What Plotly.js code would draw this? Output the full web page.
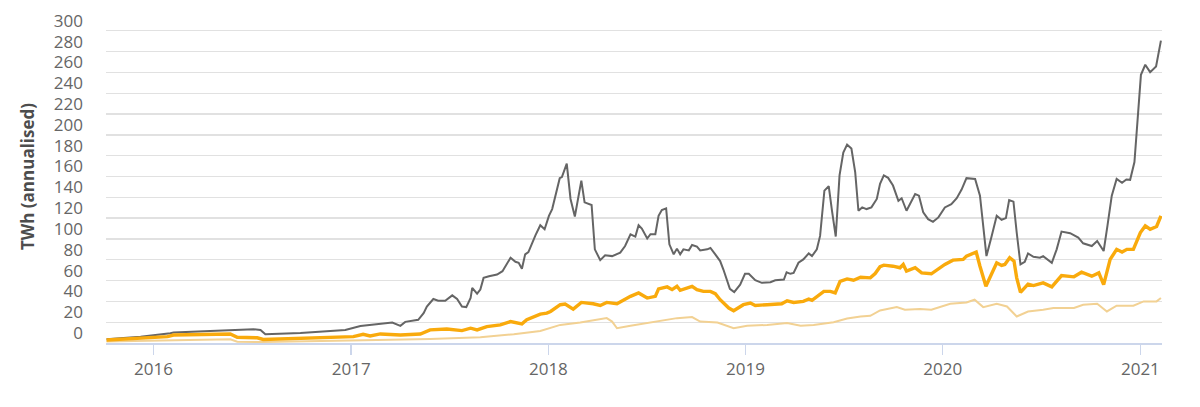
<!DOCTYPE html>
<html>
<head>
<meta charset="utf-8">
<script src="https://cdn.plot.ly/plotly-3.0.1.min.js"></script>
<style>
html,body{margin:0;padding:0;background:#fff;}
#chart{width:1200px;height:407px;}
</style>
</head>
<body>
<div id="chart"></div>
<script>
// Upper bound (grey)
const maxDates = ["2015-10-06","2015-12-08","2016-02-01","2016-02-07","2016-04-15","2016-07-04","2016-07-17","2016-07-26","2016-09-29","2016-12-21","2017-01-18","2017-02-24","2017-03-18","2017-04-02","2017-04-11","2017-05-05","2017-05-15","2017-05-21","2017-06-02","2017-06-11","2017-06-24","2017-07-07","2017-07-16","2017-07-25","2017-08-02","2017-08-10","2017-08-13","2017-08-22","2017-08-28","2017-09-03","2017-09-13","2017-09-28","2017-10-08","2017-10-23","2017-11-01","2017-11-07","2017-11-13","2017-11-19","2017-11-25","2017-12-08","2017-12-17","2017-12-25","2018-01-02","2018-01-08","2018-01-14","2018-01-22","2018-01-26","2018-02-04","2018-02-11","2018-02-19","2018-03-03","2018-03-09","2018-03-22","2018-03-28","2018-04-07","2018-04-16","2018-04-29","2018-05-14","2018-05-23","2018-06-02","2018-06-11","2018-06-17","2018-06-23","2018-07-03","2018-07-09","2018-07-18","2018-07-24","2018-07-30","2018-08-07","2018-08-13","2018-08-21","2018-08-27","2018-09-02","2018-09-08","2018-09-18","2018-09-24","2018-10-03","2018-10-09","2018-10-22","2018-10-28","2018-11-06","2018-11-15","2018-11-21","2018-12-03","2018-12-11","2018-12-22","2018-12-31","2019-01-07","2019-01-19","2019-01-31","2019-02-16","2019-02-25","2019-03-13","2019-03-18","2019-03-25","2019-03-31","2019-04-09","2019-04-18","2019-04-28","2019-05-04","2019-05-13","2019-05-19","2019-05-27","2019-06-04","2019-06-10","2019-06-17","2019-06-24","2019-07-01","2019-07-08","2019-07-16","2019-07-23","2019-07-29","2019-08-05","2019-08-13","2019-08-22","2019-09-01","2019-09-07","2019-09-14","2019-09-22","2019-10-01","2019-10-11","2019-10-17","2019-10-26","2019-11-01","2019-11-11","2019-11-18","2019-11-26","2019-12-05","2019-12-14","2019-12-24","2020-01-05","2020-01-17","2020-01-27","2020-02-05","2020-02-14","2020-03-01","2020-03-10","2020-03-17","2020-03-22","2020-03-31","2020-04-10","2020-04-19","2020-04-27","2020-05-03","2020-05-11","2020-05-17","2020-05-24","2020-06-01","2020-06-07","2020-06-17","2020-06-29","2020-07-05","2020-07-21","2020-07-30","2020-08-08","2020-08-24","2020-09-08","2020-09-17","2020-10-03","2020-10-13","2020-10-25","2020-11-01","2020-11-09","2020-11-18","2020-11-28","2020-12-06","2020-12-13","2020-12-21","2020-12-26","2021-01-02","2021-01-10","2021-01-19","2021-01-30","2021-02-08"];
const maxValues = [3.6,6.0,9.4,10.0,11.5,13.3,12.6,8.4,9.6,12.6,16.4,18.4,19.7,16.5,20.3,22.3,28.7,35,42.3,40.6,40.6,45.8,42.3,35,34.5,43.2,52.9,47.4,51.3,62.6,64.2,65.8,69,82,78,77.1,71.3,85.2,87.4,103.5,113.2,109.3,122.2,128.7,141.6,158.4,159.4,172.3,138.4,121.6,156.1,135.2,132.6,90,79.6,84.2,83.5,86.8,93.2,104.5,102.3,113.2,110,100.4,104.5,104.5,122.2,127.7,129.4,94.8,85.2,90.7,85.2,90,89,94.2,92.6,89,90,91.3,85.2,78.7,70.6,52,49,56.1,66.5,66.5,60.3,57.8,58.4,60.3,61,68,66.5,67.4,77.1,80.3,86.1,83.5,90,102.9,146.4,150.7,127.1,102.3,161,182.9,190.6,186.8,164.2,127.1,130.3,128.7,130.3,138.4,152.9,161,158.7,151.3,136.7,139.1,127.1,133.5,143.2,141.6,125.5,119,116.4,120.7,130.3,133.5,139.1,147.4,158.4,157.7,141.6,107.7,83.5,101.3,122.2,118.4,120,137.4,135.8,106.2,75.5,78.1,86.1,82.9,82,83.5,77.1,90,107.1,105.5,101.3,95.8,93.2,98,88.4,112.5,141.6,157.7,153.9,157.1,156.8,173.9,206.1,257.7,267.4,260.3,265.8,290.6];

// Estimate (orange)
const estDates = ["2015-10-06","2016-01-27","2016-02-07","2016-05-22","2016-06-04","2016-07-11","2016-07-22","2017-01-05","2017-01-23","2017-02-05","2017-02-24","2017-04-02","2017-05-09","2017-05-27","2017-06-27","2017-07-25","2017-08-10","2017-08-22","2017-09-09","2017-10-04","2017-10-23","2017-11-13","2017-11-22","2017-12-17","2017-12-29","2018-01-05","2018-01-23","2018-02-01","2018-02-16","2018-03-03","2018-03-25","2018-04-07","2018-04-19","2018-05-08","2018-06-02","2018-06-17","2018-07-03","2018-07-18","2018-07-24","2018-08-09","2018-08-18","2018-08-27","2018-09-02","2018-09-15","2018-09-24","2018-10-03","2018-10-15","2018-10-28","2018-11-06","2018-11-15","2018-12-01","2018-12-10","2018-12-28","2019-01-10","2019-01-19","2019-02-10","2019-03-09","2019-03-19","2019-03-31","2019-04-18","2019-04-28","2019-05-04","2019-05-26","2019-06-07","2019-06-16","2019-06-25","2019-07-08","2019-07-20","2019-08-02","2019-08-20","2019-08-29","2019-09-07","2019-09-14","2019-10-01","2019-10-14","2019-10-20","2019-10-26","2019-11-11","2019-11-23","2019-12-11","2020-01-05","2020-01-20","2020-02-08","2020-02-14","2020-03-03","2020-03-10","2020-03-21","2020-03-31","2020-04-10","2020-04-19","2020-04-25","2020-05-04","2020-05-12","2020-05-17","2020-05-24","2020-06-07","2020-06-17","2020-07-05","2020-07-21","2020-08-08","2020-08-31","2020-09-14","2020-10-03","2020-10-16","2020-10-25","2020-11-06","2020-11-18","2020-11-28","2020-12-07","2020-12-19","2021-01-01","2021-01-10","2021-01-19","2021-01-31","2021-02-08"];
const estValues = [2.9,6.1,7.7,8.7,5.5,5.0,3.4,6.1,8.4,6.8,8.7,7.7,8.7,12.6,13.5,11.9,14.2,12.6,15.8,17.4,20.6,18.4,22.3,27.8,28.7,30.3,36.8,37.5,32.6,39,37.7,36.1,39,37.7,44.8,48.1,43.2,44.8,52,53.9,51.3,54.5,50.6,52.9,54.5,51.3,49.6,49.6,47.4,41.6,33.6,31,36.8,38.4,36.1,36.8,37.7,40.6,39,40,42.3,41,49.6,49.6,48.1,59.3,61.6,60.3,63.2,62.6,66.8,73.3,74.8,73.8,72.3,75.5,69,72.3,67.4,66.5,75.5,79.6,80.3,83.5,87.4,73.8,54.5,65.8,77.1,74.5,75.5,82,78.7,62.6,48.7,56.6,55.2,57.8,53.9,64.8,63.6,68,64.2,67.4,56.1,80.3,90,87.4,90,90,106.2,112.5,109.3,112,122.2];

// Lower bound (light orange)
const minDates = ["2015-10-06","2016-02-01","2016-05-22","2016-06-04","2016-07-22","2016-12-30","2017-02-24","2017-05-27","2017-08-28","2017-10-29","2017-12-17","2018-01-23","2018-03-01","2018-04-04","2018-04-19","2018-04-29","2018-05-08","2018-06-02","2018-07-09","2018-08-09","2018-08-27","2018-09-24","2018-10-09","2018-11-10","2018-12-10","2019-01-04","2019-02-10","2019-03-19","2019-04-13","2019-05-07","2019-06-13","2019-07-08","2019-08-02","2019-08-20","2019-09-07","2019-10-08","2019-10-23","2019-11-20","2019-12-11","2020-01-15","2020-02-14","2020-02-29","2020-03-16","2020-04-10","2020-04-29","2020-05-17","2020-06-07","2020-07-05","2020-07-24","2020-08-31","2020-09-17","2020-10-13","2020-10-31","2020-11-18","2020-12-19","2021-01-07","2021-01-31","2021-02-08"];
const minValues = [1.5,2.5,3.5,1.2,1.0,2.5,2.9,3.9,5.5,8.4,11.6,17.4,19.6,22.3,23.9,20.6,14.2,16.5,19.6,22.3,23.9,24.9,20.6,19.6,14.2,16.5,17.4,19.1,16.5,17.4,20,23.5,25.5,26.1,31.3,34.5,31.9,32.6,31.9,37.7,39,41.6,34.5,37.7,35.1,25.5,30.3,31.9,33.6,33.6,36.8,37.7,30.3,35.8,35.8,40,40,43.2];

const yTickVals = [0,20,40,60,80,100,120,140,160,180,200,220,240,260,280,300,320];
const yTickText = ["0","20","40","60","80","100","120","140","160","180","200","220","240","260","280","300",""];
const xTickVals = ["2016-01-01","2017-01-01","2018-01-01","2019-01-01","2020-01-01","2021-01-01"];
const yTitle = "TWh (annualised)";

const traces = [
  {x: minDates, y: minValues, type: "scatter", mode: "lines", name: "Minimum",
   line: {color: "#f2d193", width: 2}, hoverinfo: "x+y"},
  {x: maxDates, y: maxValues, type: "scatter", mode: "lines", name: "Maximum",
   line: {color: "#656565", width: 2}, hoverinfo: "x+y"},
  {x: estDates, y: estValues, type: "scatter", mode: "lines", name: "Estimated",
   line: {color: "#f9aa0c", width: 3.4}, hoverinfo: "x+y"}
];

const layout = {
  width: 1200, height: 407,
  margin: {l: 106, r: 38, t: 10, b: 64},
  paper_bgcolor: "#ffffff", plot_bgcolor: "#ffffff",
  showlegend: false,
  font: {family: "Open Sans, sans-serif", color: "#666666"},
  xaxis: {
    type: "date",
    range: ["2015-10-05", "2021-02-10"],
    tickvals: xTickVals,
    tickformat: "%Y",
    showgrid: false, zeroline: false,
    showline: true, linecolor: "#ccd6eb", linewidth: 1.5,
    ticks: "outside", ticklen: 10, tickcolor: "#ccd6eb", tickwidth: 1.5,
    tickfont: {size: 17, color: "#666666"}
  },
  yaxis: {
    range: [0, 320],
    tickvals: yTickVals, ticktext: yTickText,
    showgrid: true, gridcolor: "#e1e1e1", gridwidth: 1.3,
    zeroline: false, showline: false, ticks: "",
    ticklabelshift: -10, ticklabelstandoff: 22,
    tickfont: {size: 17, color: "#666666"},
    title: {text: yTitle, font: {size: 17, color: "#4d4d4d", family: "Open Sans, sans-serif", weight: "bold"}, standoff: 14}
  }
};

Plotly.newPlot("chart", traces, layout, {displayModeBar: false, staticPlot: true});
</script>
</body>
</html>
